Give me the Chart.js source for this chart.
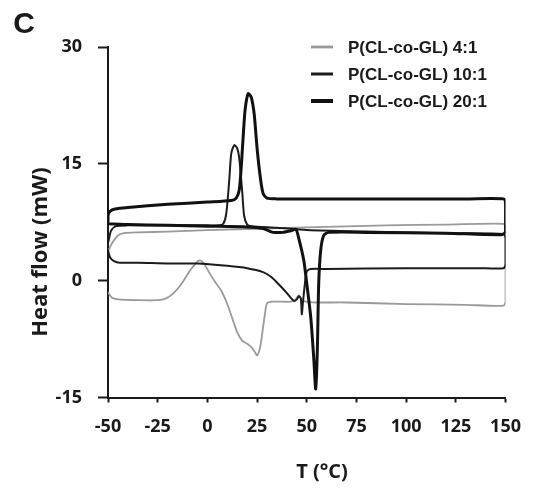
<!DOCTYPE html>
<html>
<head>
<meta charset="utf-8">
<script src="https://cdn.jsdelivr.net/npm/chart.js@4.4.1/dist/chart.umd.min.js"></script>
<style>
	html, body { margin: 0; padding: 0; background: #fff; }
	#wrap { width: 535px; height: 491px; position: relative; }
</style>
</head>
<body>
<div id="wrap"><canvas id="dsc"></canvas></div>
<script>
// DSC loops: heating run from -50 to 150 then cooling back to -50
const seriesNames = ['P(CL-co-GL) 4:1', 'P(CL-co-GL) 10:1', 'P(CL-co-GL) 20:1'];

const temp4 = [-50, -48, -45, -35, -25, -21, -17, -13, -9, -6, -4, -2, 1, 4, 7, 10, 13, 15, 17.5, 20, 22, 24, 25, 26.5, 28, 29, 30, 33, 38, 42, 44, 46, 47.5, 49.5, 55, 70, 100, 130, 149, 150, 150, 149, 120, 90, 60, 30, 0, -20, -35, -42, -45, -48, -49.5];
const flow4 = [-1.5, -2.2, -2.4, -2.5, -2.5, -2.3, -1.6, -0.4, 1.2, 2.2, 2.6, 2.3, 1.0, -0.2, -1.3, -3.0, -5.2, -6.6, -7.7, -8.1, -8.5, -9.2, -9.6, -8.6, -6.0, -4.2, -2.9, -2.7, -2.7, -2.7, -2.5, -1.9, -2.4, -2.7, -2.8, -2.8, -3.0, -3.1, -3.2, -2.6, 6.8, 7.3, 7.2, 7.1, 6.9, 6.7, 6.5, 6.3, 6.2, 6.1, 5.8, 4.8, 4.0];

const temp10 = [-50, -49, -47, -44, -35, -20, -5, 10, 20, 28, 32, 36, 40, 43.5, 45, 46, 47, 47.5, 48, 49, 50, 52, 60, 100, 140, 149, 150, 150, 149, 120, 80, 50, 35, 22, 20, 18.5, 17.5, 16, 15, 13.5, 12, 11, 9.5, 8, 6, 0, -20, -40, -46, -48.5, -49.8];
const flow10 = [3.9, 3.0, 2.5, 2.3, 2.3, 2.2, 2.2, 1.9, 1.6, 1.1, 0.5, -0.5, -1.6, -2.6, -2.4, -2.0, -2.3, -4.3, -3.0, -0.5, 1.2, 1.5, 1.5, 1.6, 1.6, 1.6, 2.2, 5.3, 6.0, 6.1, 6.3, 6.5, 6.8, 7.0, 7.2, 8.3, 11.5, 15.8, 17.0, 17.4, 16.3, 12.9, 8.6, 7.3, 7.1, 7.1, 7.1, 7.1, 7.0, 6.4, 5.0];

const temp20 = [-50, -40, -20, 0, 20, 28, 31, 33, 38, 42, 44.5, 46, 48.5, 50, 52, 53.5, 54.5, 55.3, 56, 57, 58.5, 61, 80, 120, 148, 150, 150, 149, 130, 90, 50, 35, 30, 28, 26.5, 25, 23.5, 22, 20.5, 19, 18, 17, 16, 14.5, 12, 0, -20, -40, -46.5, -49, -50, -50];
const flow20 = [7.3, 7.2, 7.1, 7.0, 6.9, 6.7, 6.4, 6.2, 6.2, 6.4, 6.6, 5.4, 2.6, -0.4, -4.7, -9.9, -13.9, -9.0, -0.4, 3.9, 5.8, 6.2, 6.2, 6.1, 5.9, 6.3, 9.9, 10.5, 10.5, 10.5, 10.5, 10.5, 10.6, 11.2, 13.5, 17, 21.5, 23.6, 24.0, 22.0, 18.5, 14.5, 11.6, 10.6, 10.3, 10.1, 9.8, 9.4, 9.2, 8.9, 8.4, 7.6];

const xTicks = [-50, 150, 25];
const yTicks = [-15, 30, 15];

function toPoints(xs, ys) {
	return xs.map((x, i) => ({ x: x, y: ys[i] }));
}

const tickFont = { family: '"Open Sans", sans-serif', size: 18, weight: 'bold' };

// legend + axis titles + panel letter
const decorations = {
	id: 'decorations',
	afterDraw(chart) {
		const ctx = chart.ctx;
		ctx.save();
		ctx.fillStyle = '#1a1a1a';

		ctx.font = 'bold 30px "Liberation Sans", Arial, sans-serif';
		ctx.textAlign = 'center';
		ctx.textBaseline = 'middle';
		ctx.fillText('C', 24, 25);

		ctx.font = 'bold 20px "Open Sans", sans-serif';
		ctx.fillText('T (°C)', 322, 472);

		ctx.save();
		ctx.translate(41, 252);
		ctx.rotate(-Math.PI / 2);
		ctx.font = 'bold 22px "Open Sans", sans-serif';
		ctx.fillText('Heat flow (mW)', 0, 0);
		ctx.restore();

		const rows = [47, 74, 101];
		ctx.font = 'bold 17px "Liberation Sans", Arial, sans-serif';
		ctx.textAlign = 'left';
		chart.data.datasets.forEach((ds, i) => {
			const y = rows[i];
			ctx.strokeStyle = ds.borderColor;
			ctx.lineWidth = ds.borderWidth + 1;
			ctx.beginPath();
			ctx.moveTo(311, y);
			ctx.lineTo(333, y);
			ctx.stroke();
			ctx.fillText(ds.label, 348, y + 1);
		});
		ctx.restore();
	}
};

const ctx = document.getElementById('dsc').getContext('2d');
new Chart(ctx, {
	type: 'scatter',
	data: {
		datasets: [
			{
				label: seriesNames[0],
				data: toPoints(temp4, flow4),
				borderColor: '#9a9a9a',
				borderWidth: 1.8,
				order: 3,
			},
			{
				label: seriesNames[1],
				data: toPoints(temp10, flow10),
				borderColor: '#1c1c1c',
				borderWidth: 2,
				order: 2,
			},
			{
				label: seriesNames[2],
				data: toPoints(temp20, flow20),
				borderColor: '#111111',
				borderWidth: 3,
				order: 1,
			},
		],
	},
	options: {
		responsive: true,
		maintainAspectRatio: false,
		animation: false,
		showLine: true,
		elements: {
			point: { radius: 0, hoverRadius: 0 },
			line: { tension: 0.25, fill: false, borderCapStyle: 'round', borderJoinStyle: 'round' },
		},
		layout: { padding: { top: 47, right: 27, left: 0, bottom: 0 } },
		plugins: {
			legend: { display: false },
			tooltip: { enabled: false },
		},
		scales: {
			x: {
				type: 'linear',
				min: xTicks[0],
				max: xTicks[1],
				afterFit: (scale) => { scale.height = 93.5; },
				ticks: { stepSize: xTicks[2], color: '#1a1a1a', font: tickFont, padding: 14, maxRotation: 0 },
				grid: { drawOnChartArea: false, drawTicks: true, tickLength: 5, tickWidth: 2, tickColor: '#1a1a1a' },
				border: { display: true, color: '#1a1a1a', width: 2 },
			},
			y: {
				type: 'linear',
				min: yTicks[0],
				max: yTicks[1],
				afterFit: (scale) => { scale.width = 108; },
				ticks: { stepSize: yTicks[2], color: '#1a1a1a', font: tickFont, padding: 16 },
				grid: { drawOnChartArea: false, drawTicks: true, tickLength: 10, tickWidth: 2, tickColor: '#1a1a1a' },
				border: { display: true, color: '#1a1a1a', width: 2 },
			},
		},
	},
	plugins: [decorations],
});
</script>
</body>
</html>
